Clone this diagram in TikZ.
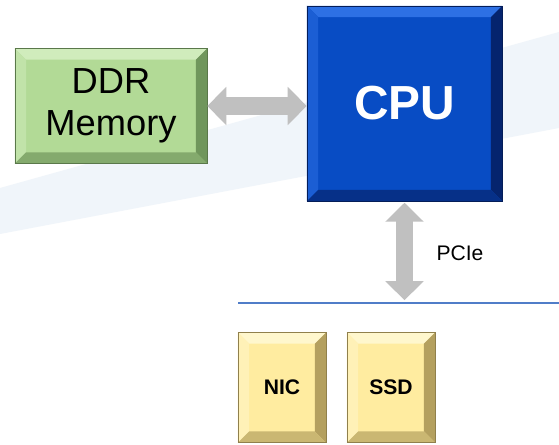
\documentclass[tikz,border=0pt]{standalone}
\usepackage{fontspec}
\setmainfont{Liberation Sans}
\usepackage{xcolor}
\usetikzlibrary{arrows.meta, positioning}
\definecolor{bandColor}{RGB}{240, 245, 250}
\definecolor{ddrColor}{RGB}{178, 218, 150}
\definecolor{ddrLight}{RGB}{208, 236, 188}
\definecolor{ddrDark}{RGB}{112, 150, 92}
\definecolor{cpuColor}{RGB}{8, 76, 196}
\definecolor{cpuLight}{RGB}{45, 112, 228}
\definecolor{cpuDark}{RGB}{5, 36, 110}
\definecolor{devColor}{RGB}{255, 236, 160}
\definecolor{devLight}{RGB}{255, 247, 205}
\definecolor{devDark}{RGB}{180, 160, 95}
\definecolor{linkGray}{RGB}{192, 192, 192}
\definecolor{busColor}{RGB}{80, 125, 200}

\begin{document}
\begin{tikzpicture}[x=0.025cm, y=-0.025cm,
        bevel/.style n args={3}{fill=#1, draw=#3!80!black, line width=0.4pt,
            inner sep=0pt, align=center,
            path picture={
                \fill[#2] (path picture bounding box.north west)
                    -- (path picture bounding box.north east)
                    -- ([xshift=-8pt,yshift=-8pt]path picture bounding box.north east)
                    -- ([xshift=8pt,yshift=-8pt]path picture bounding box.north west) -- cycle;
                \fill[#2!50!#1] (path picture bounding box.north west)
                    -- (path picture bounding box.south west)
                    -- ([xshift=8pt,yshift=8pt]path picture bounding box.south west)
                    -- ([xshift=8pt,yshift=-8pt]path picture bounding box.north west) -- cycle;
                \fill[#3] (path picture bounding box.north east)
                    -- (path picture bounding box.south east)
                    -- ([xshift=-8pt,yshift=8pt]path picture bounding box.south east)
                    -- ([xshift=-8pt,yshift=-8pt]path picture bounding box.north east) -- cycle;
                \fill[#3!70!#1] (path picture bounding box.south west)
                    -- (path picture bounding box.south east)
                    -- ([xshift=-8pt,yshift=8pt]path picture bounding box.south east)
                    -- ([xshift=8pt,yshift=8pt]path picture bounding box.south west) -- cycle;
            }},
        link/.style={linkGray, line width=12.5pt,
            {Triangle[width=26.5pt,length=13.5pt]}-{Triangle[width=26.5pt,length=13.5pt]}}
    ]
        \useasboundingbox (0,0) rectangle (559,445);
        \fill[white] (0,0) rectangle (559,445);

        % Background band
        \fill[bandColor] (0,188) -- (559,32) -- (559,128) -- (0,234) -- cycle;

        % Memory and processor
        \node[bevel={ddrColor}{ddrLight}{ddrDark}, minimum width=4.8cm, minimum height=2.875cm,
              font=\fontsize{25.8}{30}\selectfont]
              (ddr) at (111,106) {DDR\\Memory};
        \node[bevel={cpuColor}{cpuLight}{cpuDark}, minimum width=4.875cm, minimum height=4.875cm,
              text=white, font=\fontsize{34}{40}\selectfont\bfseries]
              (cpu) at (404.5,103.5) {CPU};

        % PCIe bus
        \coordinate (busL) at (238,303);
        \coordinate (busR) at (559,303);
        \coordinate (bus) at (cpu.south |- busL);
        \draw[busColor, line width=2pt] (busL) -- (busR);

        % Devices
        \foreach \name/\x in {NIC/282, SSD/391} {
            \node[bevel={devColor}{devLight}{devDark}, minimum width=2.2cm, minimum height=2.75cm,
                  font=\fontsize{15}{18}\selectfont\bfseries]
                  (\name) at (\x,387.5) {\name};
        }

        % Links
        \draw[link] (ddr.east) -- (ddr.east -| cpu.west);
        \draw[link] ([yshift=-1pt]cpu.south) -- ([yshift=2pt]bus);
        \node[font=\fontsize{15}{18}\selectfont] (pcie) at (460,253) {PCIe};
    \end{tikzpicture}
\end{document}
